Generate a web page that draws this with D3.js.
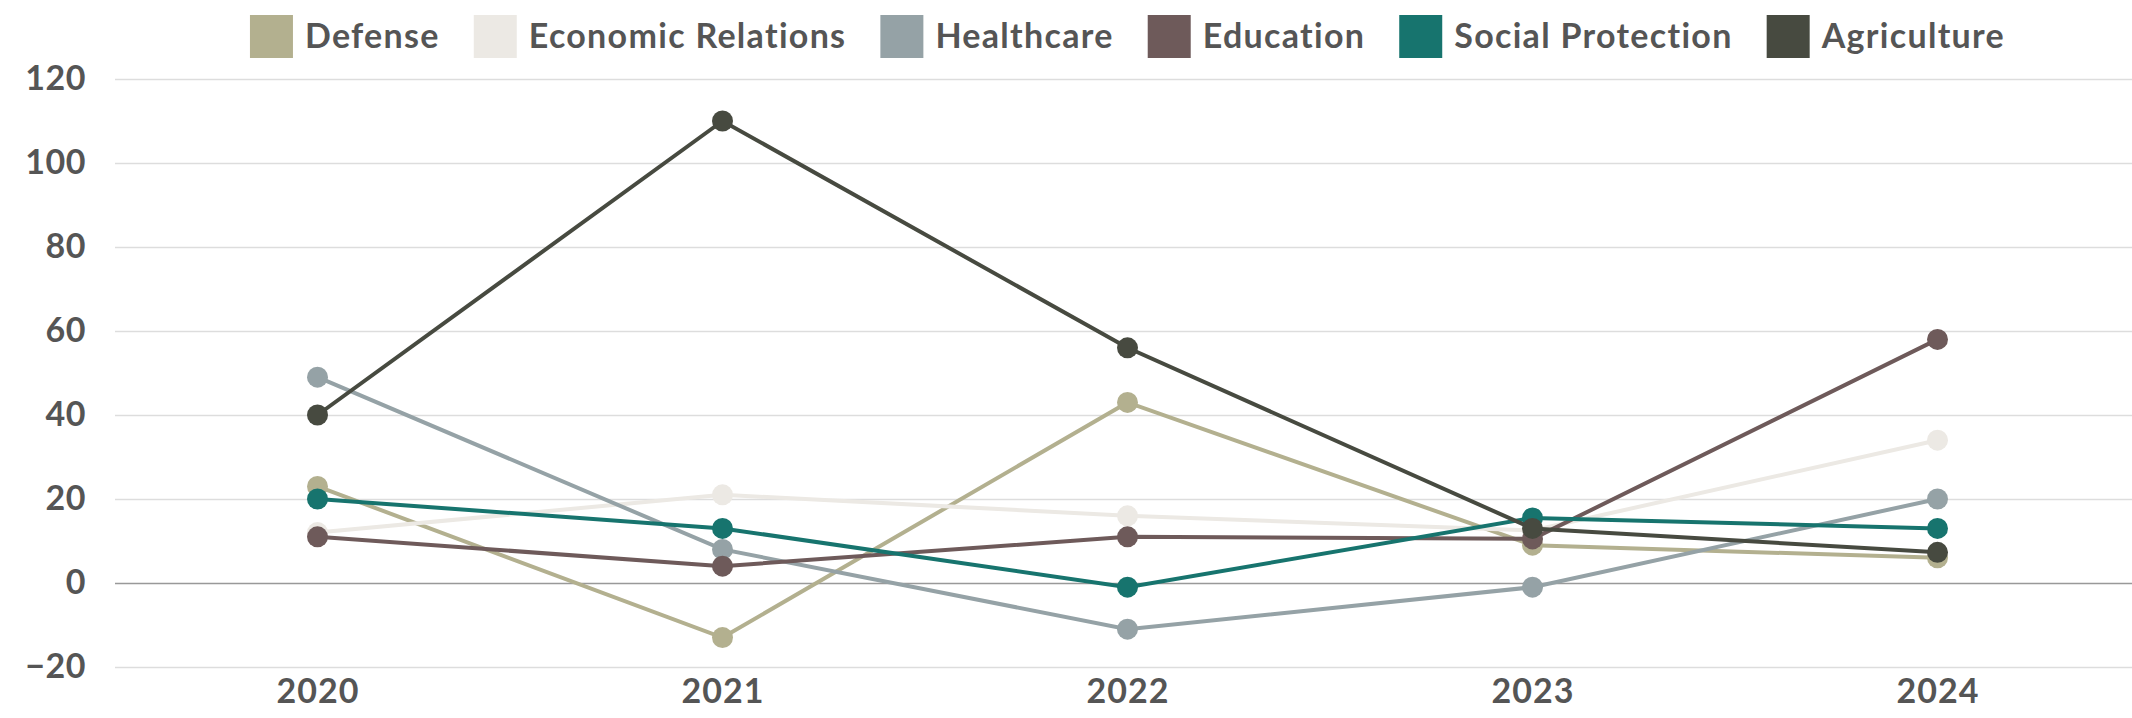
<!DOCTYPE html>
<html><head><meta charset="utf-8">
<script src="https://cdn.jsdelivr.net/npm/d3@7"></script>
<style>html,body{margin:0;padding:0;background:#fff;}svg{display:block;}</style>
</head><body>
<script>
const years = ["2020","2021","2022","2023","2024"];
const seriesNames = ["Defense","Economic Relations","Healthcare","Education","Social Protection","Agriculture"];
const colors = ["#b3b08f","#ece9e4","#95a2a6","#6e5a5a","#17746e","#474a40"];
const defense = [23,-13,43,9,6];
const economicRelations = [12,21,16,12.5,34];
const healthcare = [49,8,-11,-1,20];
const education = [11,4,11,10.5,58];
const socialProtection = [20,13,-1,15.5,13];
const agriculture = [40,110,56,13,7.3];
const yTicks = [-20,0,20,40,60,80,100,120];

(function(){
const allSeries = [defense,economicRelations,healthcare,education,socialProtection,agriculture];
const W=2132,H=718;
const mLeft=115,mRight=2140,mTop=79,mBottom=667;
const svg=d3.select("body").append("svg").attr("width",W).attr("height",H);
const x=d3.scalePoint().domain(years).range([mLeft,mRight]).padding(0.5);
const y=d3.scaleLinear().domain([-20,120]).range([mBottom,mTop]);
const font="Lato, 'Open Sans', sans-serif";

const ya=svg.append("g").attr("transform",`translate(${mLeft},0)`)
  .call(d3.axisLeft(y).tickValues(yTicks).tickSize(-(W-mLeft)).tickPadding(29).tickFormat(d3.format("d")));
ya.select(".domain").remove();
ya.selectAll(".tick line").attr("stroke",d=>d===0?"#999":"#ddd").attr("stroke-width",1.5);
ya.selectAll(".tick text").attr("fill","#555").style("font-family",font).style("font-weight","700").style("font-size","34px").style("letter-spacing","0.5px");

const xa=svg.append("g").attr("transform",`translate(0,${mBottom})`)
  .call(d3.axisBottom(x).tickSize(0).tickPadding(12));
xa.select(".domain").remove();
xa.selectAll(".tick text").attr("fill","#555").style("font-family",font).style("font-weight","700").style("font-size","34px").style("letter-spacing","1px");

const line=d3.line().x((d,i)=>x(years[i])).y(d=>y(d));
allSeries.forEach((s,k)=>{
  const g=svg.append("g");
  g.append("path").datum(s).attr("d",line).attr("fill","none").attr("stroke",colors[k]).attr("stroke-width",4);
  g.selectAll("circle").data(s).enter().append("circle")
    .attr("cx",(d,i)=>x(years[i])).attr("cy",d=>y(d)).attr("r",10.5).attr("fill",colors[k]);
});

const lg=svg.append("g");
const items=[];
seriesNames.forEach((n,k)=>{
  const it=lg.append("g");
  it.append("rect").attr("x",0).attr("y",15).attr("width",43).attr("height",43).attr("fill",colors[k]);
  const t=it.append("text").attr("x",55).attr("y",36.5).attr("dy","0.35em").text(n)
    .attr("fill","#555").style("font-family",font).style("font-weight","700").style("font-size","34px").style("letter-spacing","1.3px");
  items.push({it,w:55+t.node().getComputedTextLength()});
});
const gap=34;
const total=d3.sum(items,d=>d.w)+gap*(items.length-1);
let pos=(mLeft+W)/2-total/2+4;
items.forEach(d=>{d.it.attr("transform",`translate(${pos},0)`);pos+=d.w+gap;});
})();
</script>
</body></html>
